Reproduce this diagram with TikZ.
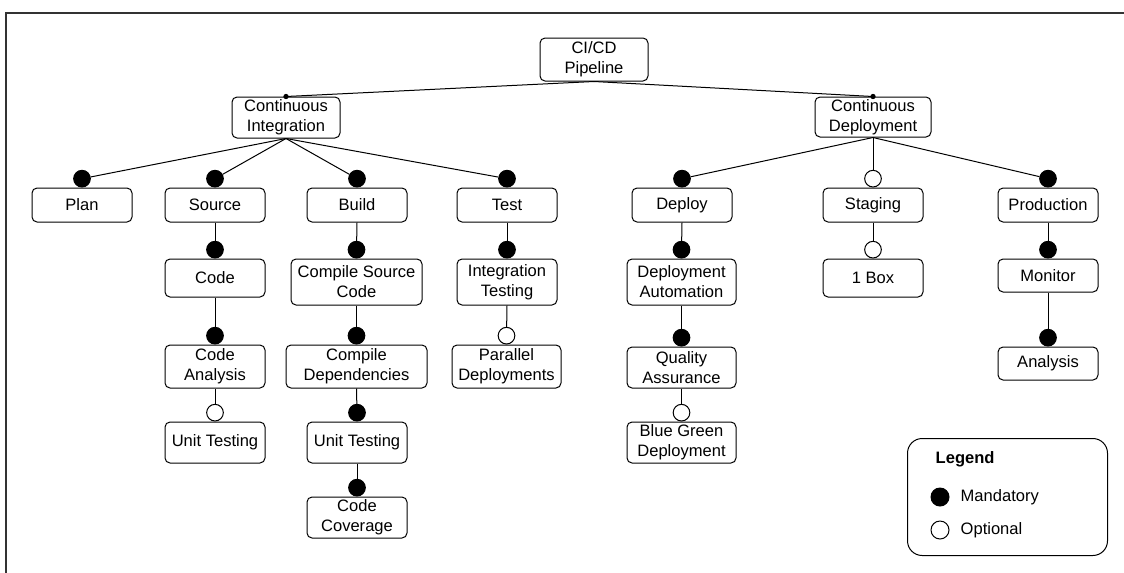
\documentclass[tikz,border=0pt]{standalone}
\usepackage{fontspec}
\setmainfont{Liberation Sans}
\begin{document}
\begin{tikzpicture}[x=0.75pt, y=-0.75pt,
  every node/.style={font=\fontsize{12.4}{15}\selectfont},
  box/.style={draw, line width=0.75pt, rounded corners=3.75pt, align=center, inner sep=0pt},
  wh/.style 2 args={minimum width=#1*0.75pt, minimum height=#2*0.75pt},
  mand/.style={circle, draw, fill=black, line width=0.75pt, minimum size=12.5pt, inner sep=0pt},
  opt/.style={circle, draw, fill=white, line width=0.75pt, minimum size=12.5pt, inner sep=0pt},
  link/.style={line width=0.75pt},
  joint/.style={circle, fill=black, minimum size=4pt, inner sep=0pt}
]
\useasboundingbox (0,0) rectangle (1124,572);
% outer frame (only the top and left edges fall inside the page)
\draw[line width=1pt, black!80] (6,600) -- (6,13) -- (1140,13);

% root and the two main stages
\node[box, wh={108}{43}] (root) at (594,59.5) {CI/CD\\Pipeline};
\node[box, wh={108}{41}] (ci) at (286,117.5) {Continuous\\Integration};
\node[box, wh={116}{40}] (cd) at (873,117) {Continuous\\Deployment};

% continuous integration branch
\node[box, wh={100}{34}] (plan) at (82,205) {Plan};
\node[box, wh={100}{34}] (source) at (215,205) {Source};
\node[box, wh={100}{34}] (build) at (357,205) {Build};
\node[box, wh={100}{34}] (test) at (507,205) {Test};
\node[box, wh={100}{38}] (code) at (215,278) {Code};
\node[box, wh={131}{46}] (csc) at (356.5,282) {Compile Source\\Code};
\node[box, wh={100}{46}] (itest) at (507,282) {Integration\\Testing};
\node[box, wh={100}{43}] (canal) at (215,366.5) {Code\\Analysis};
\node[box, wh={141}{43}] (cdep) at (356.5,366.5) {Compile\\Dependencies};
\node[box, wh={109}{43}] (pdep) at (506.5,366.5) {Parallel\\Deployments};
\node[box, wh={100}{41}] (utA) at (215,442.5) {Unit Testing};
\node[box, wh={100}{41}] (utB) at (357,442.5) {Unit Testing};
\node[box, wh={100}{41}] (ccov) at (357,517.5) {Code\\Coverage};

% continuous deployment branch
\node[box, wh={100}{34}] (deploy) at (682,205) {Deploy};
\node[box, wh={100}{34}] (staging) at (873,205) {Staging};
\node[box, wh={100}{34}] (prod) at (1048,205) {Production};
\node[box, wh={109}{46}] (dauto) at (681.5,282) {Deployment\\Automation};
\node[box, wh={100}{38}] (onebox) at (873,278) {1 Box};
\node[box, wh={100}{33}] (monitor) at (1048,275.5) {Monitor};
\node[box, wh={109}{41}] (qa) at (681.5,367.5) {Quality\\Assurance};
\node[box, wh={100}{33}] (analysis) at (1048,363.5) {Analysis};
\node[box, wh={109}{41}] (bgd) at (681.5,442.5) {Blue Green\\Deployment};

% root connections with small joint dots
\draw[link] (root.south) -- (ci.north);
\draw[link] (root.south) -- (cd.north);
\node[joint] (jci) at (ci.north) {};
\node[joint] (jcd) at (cd.north) {};

% feature markers sitting on top of each child box
\foreach \n/\kind in {plan/mand, source/mand, build/mand, test/mand,
  code/mand, csc/mand, itest/mand, canal/mand, cdep/mand, pdep/opt,
  utA/opt, utB/mand, ccov/mand, deploy/mand, staging/opt, prod/mand,
  dauto/mand, onebox/opt, monitor/mand, qa/mand, analysis/mand, bgd/opt}
  \node[\kind, anchor=south] (m-\n) at (\n.north) {};

% connectors from each parent to the marker of its child
\foreach \p/\c in {ci/plan, ci/source, ci/build, ci/test,
  source/code, code/canal, canal/utA,
  build/csc, csc/cdep, cdep/utB, utB/ccov,
  test/itest, itest/pdep,
  cd/deploy, cd/staging, cd/prod,
  deploy/dauto, dauto/qa, qa/bgd,
  staging/onebox, prod/monitor, monitor/analysis}
  \draw[link] (\p.south) -- (m-\c);

% legend
\node[draw, line width=0.75pt, rounded corners=11pt, minimum width=150pt, minimum height=87.75pt, anchor=north west, inner sep=0pt] (legend) at (907,438) {};
\node[anchor=west, font=\fontsize{12.4}{15}\selectfont\bfseries] (legtitle) at (931,459.5) {Legend};
\node[mand, minimum size=13.5pt] (legm) at (940,497) {};
\node[opt, minimum size=13.5pt] (lego) at (940,530) {};
\node[anchor=west] (legmt) at (956,497) {Mandatory};
\node[anchor=west] (legot) at (956,530) {Optional};
\end{tikzpicture}
\end{document}
